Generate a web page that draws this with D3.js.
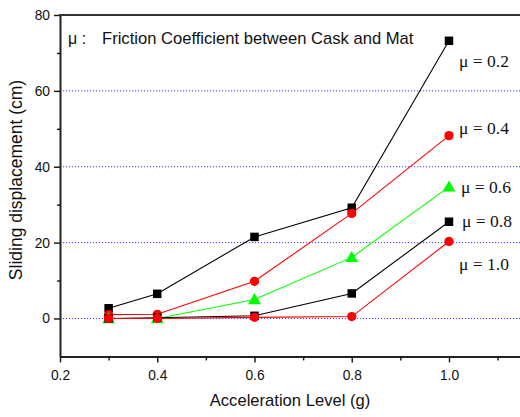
<!DOCTYPE html>
<html>
<head>
<meta charset="utf-8">
<script src="https://cdn.jsdelivr.net/npm/d3@7"></script>
<style>
  html, body { margin: 0; padding: 0; background: #fff; }
  svg { display: block; }
</style>
</head>
<body>
<svg id="chart" width="520" height="417"></svg>
<script>
// Acceleration levels (g)
const accel = [0.3, 0.4, 0.6, 0.8, 1.0];
// Friction coefficients between cask and mat
const mu = ["0.2", "0.4", "0.6", "0.8", "1.0"];
// Sliding displacement (cm) for each friction coefficient
const disp02 = [2.7, 6.5, 21.5, 29.2, 73.2];
const disp04 = [1.0, 1.1, 9.8, 27.7, 48.2];
const disp06 = [0.0, 0.0, 5.0, 16.1, 34.7];
const disp08 = [0.0, 0.2, 0.7, 6.6, 25.5];
const disp10 = [0.0, 0.0, 0.3, 0.5, 20.3];
const yTicks = [0, 20, 40, 60, 80];
const yMinor = [10, 30, 50, 70];
const xTicks = [0.2, 0.4, 0.6, 0.8, 1.0];
const xMinor = [0.3, 0.5, 0.7, 0.9, 1.1];
const gridValues = [0, 20, 40, 60];

const series = [
  { mu: mu[0], values: disp02, color: "#000000", shape: "square" },
  { mu: mu[1], values: disp04, color: "#ff0000", shape: "circle" },
  { mu: mu[2], values: disp06, color: "#00ff00", shape: "triangle" },
  { mu: mu[3], values: disp08, color: "#000000", shape: "square" },
  { mu: mu[4], values: disp10, color: "#ff0000", shape: "circle" }
];

const svg = d3.select("#chart");
const mLeft = 60, mTop = 15, mBottom = 356.4, mRight = 520;

const x = d3.scaleLinear().domain([0.2, 1.2]).range([mLeft, mLeft + 486.25]);
const y = d3.scaleLinear().domain([-10, 80]).range([mBottom, mTop]);

// dotted horizontal grid
svg.append("g").selectAll("line").data(gridValues).join("line")
  .attr("x1", mLeft).attr("x2", mRight)
  .attr("y1", d => y(d)).attr("y2", d => y(d))
  .attr("stroke", "#3b3bff").attr("stroke-width", 1)
  .attr("stroke-dasharray", "1.2,1.8");

// axes
const axisFont = "Liberation Sans, Arial, sans-serif";
svg.append("g").attr("transform", `translate(${mLeft},0)`)
  .call(d3.axisLeft(y).tickValues(yTicks).tickSize(6).tickSizeOuter(0).tickPadding(4));
svg.append("g").attr("transform", `translate(${mLeft},0)`)
  .call(d3.axisLeft(y).tickValues(yMinor).tickSize(3).tickFormat(""))
  .call(g => g.select(".domain").remove());
svg.append("g").attr("transform", `translate(0,${mBottom})`)
  .call(d3.axisBottom(x).tickValues(xTicks).tickSize(6).tickSizeOuter(0).tickPadding(8)
    .tickFormat(d3.format(".1f")));
svg.append("g").attr("transform", `translate(0,${mBottom})`)
  .call(d3.axisBottom(x).tickValues(xMinor).tickSize(4).tickFormat(""))
  .call(g => g.select(".domain").remove());

svg.selectAll(".tick line").attr("stroke", "#111").attr("stroke-width", 1.4);
svg.selectAll(".domain").attr("stroke", "#222").attr("stroke-width", 2);
svg.selectAll(".tick text").attr("font-family", axisFont).attr("font-size", 13.8).attr("fill", "#111");

// top frame line
svg.append("line").attr("x1", mLeft - 1).attr("x2", mRight)
  .attr("y1", mTop).attr("y2", mTop)
  .attr("stroke", "#333").attr("stroke-width", 2);

// axis titles
svg.append("text").attr("x", 290).attr("y", 406)
  .attr("text-anchor", "middle").attr("font-family", axisFont).attr("font-size", 16.6)
  .attr("fill", "#111").text("Acceleration Level (g)");
svg.append("text").attr("transform", "translate(22,180) rotate(-90)")
  .attr("text-anchor", "middle").attr("font-family", axisFont).attr("font-size", 17.5)
  .attr("fill", "#111").text("Sliding displacement (cm)");

// series lines and markers
const line = d3.line().x((d, i) => x(accel[i])).y(d => y(d));
const plot = svg.append("g");
series.forEach(s => {
  plot.append("path").datum(s.values)
    .attr("d", line).attr("fill", "none")
    .attr("stroke", s.color).attr("stroke-width", 1.1);
  const sym = s.shape === "square" ? d3.symbolSquare
    : s.shape === "circle" ? d3.symbolCircle : d3.symbolTriangle;
  const size = s.shape === "square" ? 72 : s.shape === "circle" ? 68 : 72;
  plot.selectAll(null).data(s.values).join("path")
    .attr("transform", (d, i) => `translate(${x(accel[i])},${y(d) + (s.shape === "triangle" ? 1 : 0)})`)
    .attr("d", d3.symbol().type(sym).size(size))
    .attr("fill", s.color);
});

// curve labels beside the last point of each series
const labelDy = [26, -2, 6, 5, 29];
const labelDx = [10, 10, 12, 13, 10];
const serif = "Liberation Serif, Times New Roman, serif";
series.forEach((s, k) => {
  const last = s.values[s.values.length - 1];
  svg.append("text")
    .attr("x", x(accel[accel.length - 1]) + labelDx[k])
    .attr("y", y(last) + labelDy[k])
    .attr("font-family", serif).attr("font-size", 17.5).attr("fill", "#111")
    .text(`\u03bc = ${s.mu}`);
});

// annotation
svg.append("text").attr("x", 68).attr("y", 44)
  .attr("font-family", axisFont).attr("font-size", 16).attr("fill", "#111").text("\u03bc :");
svg.append("text").attr("x", 102).attr("y", 44)
  .attr("font-family", axisFont).attr("font-size", 16.6).attr("fill", "#111")
  .text("Friction Coefficient between Cask and Mat");
</script>
</body>
</html>
